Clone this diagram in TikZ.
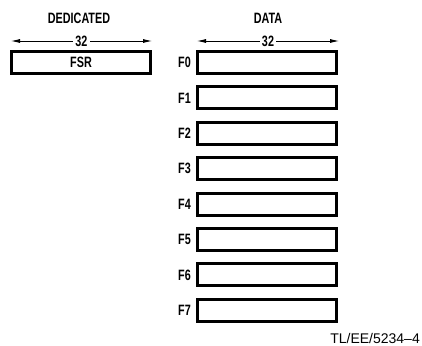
\documentclass[tikz,border=0pt]{standalone}
\usepackage{fontspec}
\setmainfont{Liberation Sans}
\newfontfamily\condfont[FakeStretch=0.72]{Liberation Sans}
\usetikzlibrary{positioning,arrows.meta}
\begin{document}
\begin{tikzpicture}[x=1pt,y=-1pt,>={Latex[length=9pt,width=4pt]},
    reg/.style={draw,line width=3pt,minimum width=139pt,minimum height=22pt,inner sep=0pt,font=\condfont\bfseries\fontsize{15}{17}\selectfont},
    lbl/.style={font=\condfont\bfseries\fontsize{15}{17}\selectfont,inner sep=1pt}]
    \useasboundingbox (0,0) rectangle (422,345);
    % dedicated register
    \node[lbl] (ded) at (79,18) {DEDICATED};
    \coordinate (dl) at (11,41);
    \coordinate (dr) at (152,41);
    \draw[<->,line width=0.8pt] (dl) -- (dr) node[midway,fill=white,lbl,inner sep=2pt] {32};
    \node[reg] (fsr) at (81,62) {FSR};
    % data registers
    \node[lbl] (data) at (268,18) {DATA};
    \coordinate (al) at (197,41);
    \coordinate (ar) at (339,41);
    \draw[<->,line width=0.8pt] (al) -- (ar) node[midway,fill=white,lbl,inner sep=2pt] {32};
    \foreach \i in {0,...,7} {
        \node[reg] (f\i) at (267,62.5+35.4*\i) {};
        \node[lbl,left=4pt of f\i] (n\i) {F\i};
    }
    \node[anchor=east,inner sep=0pt,font=\fontsize{14}{16}\selectfont] (tag) at (420,338) {TL/EE/5234--4};
\end{tikzpicture}
\end{document}
